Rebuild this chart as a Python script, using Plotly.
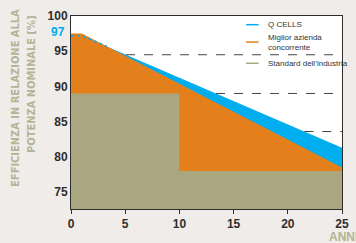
import numpy as np
import plotly.graph_objects as go

# ---- data ----
years_q = [0, 1, 25]
qcells = [97.2, 97.2, 81.3]
years_comp = [0, 1, 25]
competitor = [97.5, 97.5, 78.5]
years_std = [0, 10, 25]
standard = [89.0, 78.0, 78.0]
dash_levels = [94.5, 89.0, 83.6]
x_ticks = [0, 5, 10, 15, 20, 25]
y_ticks = [75, 80, 85, 90, 95, 100]
names = ["Q CELLS", "Miglior azienda<br>concorrente", "Standard dell\u2019industria"]

BLUE = "#00adee"
ORANGE = "#e4801c"
OLIVE = "#a9a680"
TITLE_C = "#b3b495"
BG = "#efece9"
DARK = "#2e2e2e"

fig = go.Figure()
fig.add_trace(go.Scatter(x=years_q, y=qcells, mode="lines", fill="tozeroy",
                         fillcolor=BLUE, line=dict(color=BLUE, width=0), hoverinfo="skip"))
fig.add_trace(go.Scatter(x=years_comp, y=competitor, mode="lines", fill="tozeroy",
                         fillcolor=ORANGE, line=dict(color=ORANGE, width=0), hoverinfo="skip"))
fig.add_trace(go.Scatter(x=years_std, y=standard, mode="lines", line_shape="hv", fill="tozeroy",
                         fillcolor=OLIVE, line=dict(color=OLIVE, width=0), hoverinfo="skip"))

# dotted Q CELLS line where it is hidden under the competitor area
grid = np.linspace(0, 25, 2501)
q_i = np.interp(grid, years_q, qcells)
c_i = np.interp(grid, years_comp, competitor)
hidden = grid[q_i <= c_i]
x_cross = float(hidden.max())
dot_x = [v for v in years_q if v < x_cross] + [x_cross]
dot_y = list(np.interp(dot_x, years_q, qcells))
fig.add_trace(go.Scatter(x=dot_x, y=dot_y, mode="lines",
                         line=dict(color=BLUE, width=1.6, dash="dot"), hoverinfo="skip"))

# dashed reference lines: from the Q CELLS line to the right edge
xq = np.array(years_q[1:], dtype=float)
yq = np.array(qcells[1:], dtype=float)
for lvl in dash_levels:
    x0 = float(np.interp(lvl, yq[::-1], xq[::-1]))
    fig.add_shape(type="line", x0=x0, x1=25, y0=lvl, y1=lvl, xref="x", yref="y",
                  line=dict(color="#444444", width=1, dash="dash"), layer="above")

# custom legend
leg_colors = [BLUE, ORANGE, OLIVE]
leg_y = [0.955, 0.865, 0.755]
for nm, c, yy in zip(names, leg_colors, leg_y):
    fig.add_shape(type="line", xref="paper", yref="paper", x0=0.646, x1=0.692,
                  y0=yy, y1=yy, line=dict(color=c, width=1.5))
    fig.add_annotation(xref="paper", yref="paper", x=0.718, y=yy, text=nm,
                       showarrow=False, xanchor="left", yanchor="middle", align="left",
                       font=dict(family="Liberation Sans Narrow, Liberation Sans, Arial", size=8, color="#333333"))

# 97 label
fig.add_annotation(xref="paper", yref="y", x=-0.014, y=97, yshift=5, text="<b>97</b>",
                   showarrow=False, xanchor="right", yanchor="middle",
                   font=dict(family="Liberation Sans, Arial", size=12, color=BLUE))

# y-axis title (two rotated lines)
fig.add_annotation(xref="paper", yref="paper", x=-0.205, y=0.578,
                   text="<b>EFFICIENZA IN RELAZIONE ALLA</b>", textangle=-90, showarrow=False,
                   xanchor="center", yanchor="middle",
                   font=dict(family="Liberation Sans Narrow, DejaVu Sans Condensed, Arial", size=11, color=TITLE_C))
fig.add_annotation(xref="paper", yref="paper", x=-0.144, y=0.648,
                   text="<b>POTENZA NOMINALE [%]</b>", textangle=-90, showarrow=False,
                   xanchor="center", yanchor="middle",
                   font=dict(family="Liberation Sans Narrow, DejaVu Sans Condensed, Arial", size=11, color=TITLE_C))

# x-axis title (cut at the right edge, as in the reference)
fig.add_annotation(xref="paper", yref="paper", x=0.945, y=-0.145, text="<b>ANNI</b>",
                   showarrow=False, xanchor="left", yanchor="middle",
                   font=dict(family="Liberation Sans Narrow, Liberation Sans, Arial", size=12, color=TITLE_C))

fig.update_layout(
    width=356, height=243,
    margin=dict(l=71, r=7, t=16, b=34),
    paper_bgcolor=BG, plot_bgcolor="white",
    showlegend=False,
)
fig.update_xaxes(range=[0, 25], tickvals=x_ticks, ticktext=[f"<b>{v}</b>" for v in x_ticks],
                 showgrid=False, zeroline=False, showline=True, mirror=True,
                 linecolor=DARK, linewidth=1, ticks="outside", ticklen=4, tickcolor=DARK,
                 tickfont=dict(family="Liberation Sans, Arial", size=12, color=DARK))
fig.update_yaxes(range=[72.6, 100], tickvals=y_ticks, ticktext=[f"<b>{v}</b>" for v in y_ticks],
                 showgrid=False, zeroline=False, showline=True, mirror=True,
                 linecolor=DARK, linewidth=1, ticks="",
                 tickfont=dict(family="Liberation Sans, Arial", size=12, color=DARK))

fig.write_html("out.html", config={"displayModeBar": False},
               post_script="document.body.style.margin='0';document.body.style.background='" + BG + "';")
